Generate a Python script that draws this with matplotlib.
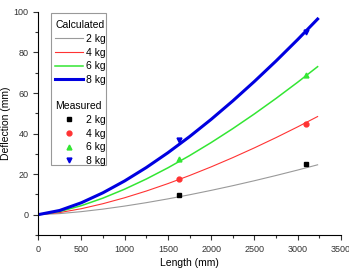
import matplotlib
matplotlib.use('Agg')
import matplotlib.pyplot as plt
from matplotlib.patches import Rectangle
from matplotlib.ticker import MultipleLocator

plt.rcParams['font.family'] = ['Liberation Sans', 'DejaVu Sans']

# calculated curves
length_calc = [0, 250, 500, 750, 1000, 1250, 1500, 1750, 2000, 2250, 2500, 2750, 3000, 3230]
calc_2kg = [0, 0.53, 1.50, 2.75, 4.24, 5.92, 7.79, 9.81, 11.99, 14.30, 16.75, 19.33, 22.02, 24.6]
calc_4kg = [0, 1.04, 2.95, 5.42, 8.34, 11.65, 15.32, 19.30, 23.58, 28.14, 32.96, 38.02, 43.32, 48.4]
calc_6kg = [0, 1.57, 4.45, 8.17, 12.58, 17.57, 23.10, 29.11, 35.57, 42.44, 49.71, 57.35, 65.34, 73.0]
calc_8kg = [0, 2.08, 5.88, 10.80, 16.63, 23.23, 30.54, 38.48, 47.01, 56.11, 65.72, 75.81, 86.38, 96.5]

# measured points
length_meas = [1630, 3100]
meas_2kg = [9.7, 25.0]
meas_4kg = [17.7, 44.8]
meas_6kg = [27.6, 69.0]
meas_8kg = [36.6, 90.0]

labels = ['2 kg', '4 kg', '6 kg', '8 kg']
colors = ['#9a9a9a', '#ff3333', '#33e633', '#0000e0']
widths = [0.8, 0.8, 1.1, 2.2]
markers = ['s', 'o', '^', 'v']

fig = plt.figure(figsize=(3.49, 2.71), dpi=100)
ax = fig.add_axes([0.109, 0.133, 0.868, 0.823])

calc = [calc_2kg, calc_4kg, calc_6kg, calc_8kg]
meas = [meas_2kg, meas_4kg, meas_6kg, meas_8kg]
line_handles = []
mark_handles = []
for i in range(4):
    l, = ax.plot(length_calc, calc[i], color=colors[i], lw=widths[i])
    line_handles.append(l)
    mcol = 'black' if i == 0 else colors[i]
    m, = ax.plot(length_meas, meas[i], ls='none', marker=markers[i], ms=3.5, color=mcol)
    mark_handles.append(m)

ax.set_xlim(0, 3500)
ax.set_ylim(-10, 100)
ax.xaxis.set_major_locator(MultipleLocator(500))
ax.xaxis.set_minor_locator(MultipleLocator(250))
ax.yaxis.set_major_locator(MultipleLocator(20))
ax.yaxis.set_minor_locator(MultipleLocator(10))
ax.spines['top'].set_visible(False)
ax.spines['right'].set_visible(False)
ax.tick_params(which='both', direction='out', labelsize=6.5, colors='#333333', width=0.8)
ax.tick_params(which='major', length=3.5)
ax.tick_params(which='minor', length=2)
ax.set_xlabel('Length (mm)', fontsize=7.5, labelpad=3)
ax.set_ylabel('Deflection (mm)', fontsize=7.5, labelpad=2)

leg1 = ax.legend(line_handles, labels, title='Calculated', loc='upper left',
                 bbox_to_anchor=(0.03, 1.0), frameon=False, fontsize=7.5,
                 title_fontsize=7.5, alignment='left', handlelength=2.6,
                 handletextpad=0.3, labelspacing=0.35, borderpad=0.3)
ax.add_artist(leg1)
ax.legend(mark_handles, labels, title='Measured', loc='upper left',
          bbox_to_anchor=(0.03, 0.636), frameon=False, fontsize=7.5,
          title_fontsize=7.5, alignment='left', handlelength=2.6,
          handletextpad=0.3, labelspacing=0.35, borderpad=0.3)

ax.add_patch(Rectangle((0.043, 0.314), 0.181, 0.682, transform=ax.transAxes,
                       fill=False, edgecolor='#999999', lw=0.8, clip_on=False))

fig.savefig('out.png', dpi=100)
